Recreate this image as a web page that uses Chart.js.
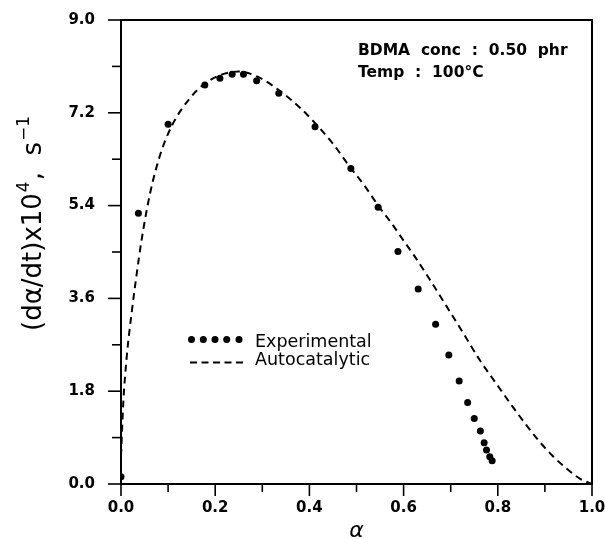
<!DOCTYPE html>
<html><head><meta charset="utf-8">
<script src="https://cdn.jsdelivr.net/npm/chart.js@4"></script>
<style>html,body{margin:0;padding:0;background:#fff;} #wrap{width:605px;height:539px;position:relative;}</style>
</head><body><div id="wrap"><canvas id="c" width="605" height="539"></canvas></div>
<script>
// Experimental data (alpha, rate x10^4 s^-1)
const expAlpha = [0.0, 0.037, 0.100, 0.178, 0.210, 0.236, 0.260, 0.288, 0.335, 0.412, 0.488, 0.546, 0.588, 0.631, 0.668, 0.696, 0.718, 0.736, 0.750, 0.763, 0.771, 0.776, 0.783, 0.788];
const expRate  = [0.14, 5.25, 6.98, 7.74, 7.87, 7.95, 7.95, 7.82, 7.58, 6.93, 6.12, 5.37, 4.51, 3.78, 3.10, 2.50, 2.00, 1.58, 1.27, 1.03, 0.80, 0.66, 0.53, 0.45];
// Autocatalytic model curve
const curveAlpha = [0, 0.005, 0.012, 0.023, 0.033, 0.044, 0.062, 0.083, 0.108, 0.146, 0.18, 0.22, 0.25, 0.29, 0.338, 0.38, 0.412, 0.45, 0.486, 0.52, 0.546, 0.575, 0.60, 0.621, 0.656, 0.691, 0.727, 0.762, 0.798, 0.833, 0.86, 0.886, 0.918, 0.95, 0.975, 1.0];
const curveRate  = [0.55, 1.6, 2.45, 3.35, 4.05, 4.75, 5.65, 6.38, 6.95, 7.48, 7.78, 7.96, 8.0, 7.9, 7.62, 7.3, 7.0, 6.6, 6.15, 5.75, 5.40, 5.05, 4.72, 4.45, 3.96, 3.45, 2.92, 2.40, 1.93, 1.48, 1.15, 0.85, 0.53, 0.27, 0.10, 0.0];
// Tick labels
const xTickLabels = ['0.0', '0.2', '0.4', '0.6', '0.8', '1.0'];
const yTickLabels = ['0.0', '1.8', '3.6', '5.4', '7.2', '9.0'];
const legendLabels = ['Experimental', 'Autocatalytic'];
const noteLines = ['BDMA  conc  :  0.50  phr', 'Temp  :  100°C'];

const expPts = expAlpha.map((a, i) => ({x: a, y: expRate[i]}));
const curvePts = curveAlpha.map((a, i) => ({x: a, y: curveRate[i]}));

function xMajor(v) { return Math.round(v * 10) % 2 === 0; }
function yMajor(v) { return Math.round(v / 0.9) % 2 === 0; }
function xLabel(v) { return xMajor(v) ? xTickLabels[Math.round(v * 5)] : ''; }
function yLabel(v) { return yMajor(v) ? yTickLabels[Math.round(v / 1.8)] : ''; }

const tickFont = {family: 'DejaVu Sans', size: 15, weight: 'bold'};

function zeroPad(s) { s.paddingTop = 0; s.paddingBottom = 0; s.paddingLeft = 0; s.paddingRight = 0; }

const decor = {
  id: 'decor',
  afterDraw(chart) {
    const ctx = chart.ctx, a = chart.chartArea;
    const xs = chart.scales.x, ys = chart.scales.y;
    ctx.save();
    ctx.strokeStyle = '#000'; ctx.fillStyle = '#000';
    ctx.lineWidth = 2;
    ctx.strokeRect(a.left, a.top, a.right - a.left, a.bottom - a.top);
    ctx.lineWidth = 1.6;
    xs.ticks.forEach(t => {
      const px = xs.getPixelForValue(t.value);
      ctx.beginPath(); ctx.moveTo(px, a.bottom); ctx.lineTo(px, a.bottom + (xMajor(t.value) ? 12 : 8)); ctx.stroke();
    });
    ys.ticks.forEach(t => {
      const py = ys.getPixelForValue(t.value);
      ctx.beginPath(); ctx.moveTo(a.left, py); ctx.lineTo(a.left - (yMajor(t.value) ? 13 : 9), py); ctx.stroke();
    });
    // notes
    ctx.font = 'bold 15.5px "DejaVu Sans"';
    ctx.textAlign = 'left'; ctx.textBaseline = 'alphabetic';
    ctx.fillText(noteLines[0], 358, 55);
    ctx.fillText(noteLines[1], 358, 77);
    // legend
    const mx = [191.5, 203.3, 215, 226.7, 239];
    mx.forEach(x => { ctx.beginPath(); ctx.arc(x, 339.5, 3.5, 0, Math.PI * 2); ctx.fill(); });
    ctx.lineWidth = 2; ctx.setLineDash([7, 4.5]);
    ctx.beginPath(); ctx.moveTo(190, 362.5); ctx.lineTo(244, 362.5); ctx.stroke();
    ctx.setLineDash([]);
    ctx.font = '17.5px "DejaVu Sans"';
    ctx.fillText(legendLabels[0], 255, 347);
    ctx.fillText(legendLabels[1], 255, 365);
    // x title
    ctx.font = 'italic 22px "DejaVu Sans"';
    ctx.textAlign = 'center';
    ctx.fillText('α', (a.left + a.right) / 2, 537);
    // y title
    ctx.translate(41, 331);
    ctx.rotate(-Math.PI / 2);
    ctx.textAlign = 'left';
    let x = 0;
    const big = '26px "DejaVu Sans"', small = '17px "DejaVu Sans"';
    const parts = [['(dα/dt)x10', big, 0], ['4', small, -12], [',  s', big, 0], ['−1', small, -12]];
    parts.forEach(p => { ctx.font = p[1]; ctx.fillText(p[0], x, p[2]); x += ctx.measureText(p[0]).width + 1; });
    ctx.restore();
  }
};

new Chart(document.getElementById('c'), {
  type: 'scatter',
  data: {
    datasets: [
      {label: legendLabels[0], data: expPts, pointStyle: 'circle', pointRadius: 3.5, pointHoverRadius: 3.5,
       backgroundColor: '#000', borderColor: '#000', borderWidth: 0, showLine: false},
      {label: legendLabels[1], data: curvePts, showLine: true, pointRadius: 0, borderColor: '#000', borderWidth: 2,
       borderDash: [7, 5], cubicInterpolationMode: 'monotone', fill: false}
    ]
  },
  options: {
    responsive: false, animation: false, devicePixelRatio: 1,
    layout: {padding: {left: 0, right: 13, top: 20, bottom: 0}},
    plugins: {legend: {display: false}, tooltip: {enabled: false}},
    scales: {
      x: {type: 'linear', min: 0, max: 1,
          ticks: {stepSize: 0.1, callback: v => xLabel(v), font: tickFont, color: '#000', padding: 15, autoSkip: false, maxRotation: 0},
          grid: {display: false, drawTicks: false}, border: {display: false},
          afterFit: s => { s.height = 55; zeroPad(s); }},
      y: {type: 'linear', min: 0, max: 9,
          ticks: {stepSize: 0.9, callback: v => yLabel(v), font: tickFont, color: '#000', padding: 26, autoSkip: false},
          grid: {display: false, drawTicks: false}, border: {display: false},
          afterFit: s => { s.width = 121; zeroPad(s); }}
    }
  },
  plugins: [decor]
});
</script></body></html>
